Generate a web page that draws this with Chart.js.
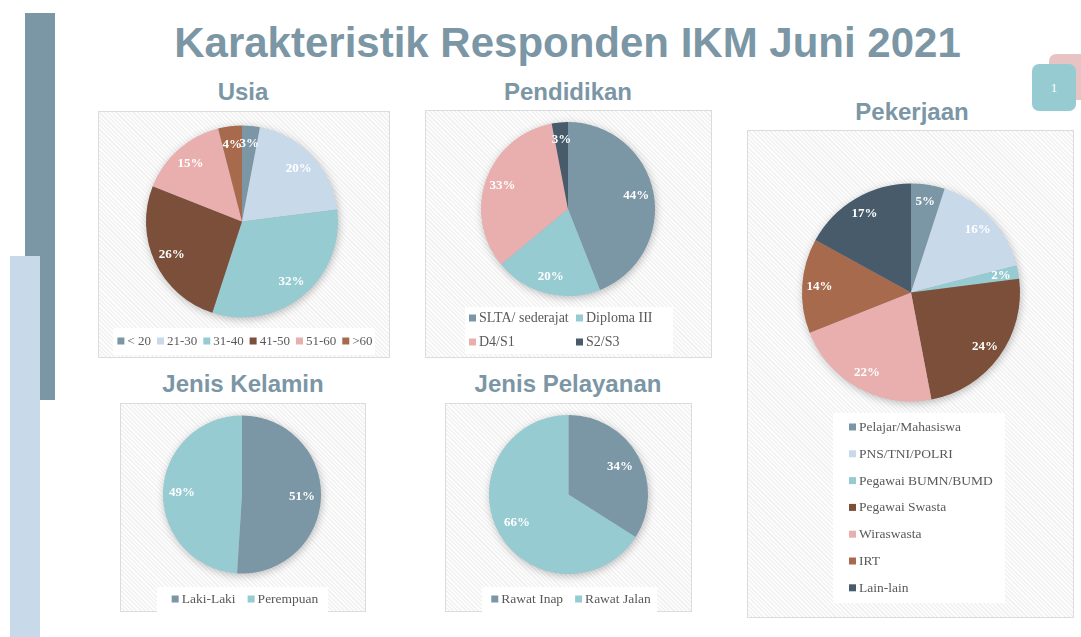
<!DOCTYPE html>
<html><head><meta charset="utf-8">
<script src="https://cdn.jsdelivr.net/npm/chart.js@4.4.1/dist/chart.umd.min.js"></script>
<style>
html,body{margin:0;padding:0;background:#fff;width:1081px;height:637px;overflow:hidden;position:relative}
.abs{position:absolute}
.bar1{left:25px;top:13px;width:30px;height:387px;background:#7b96a5}
.bar2{left:10px;top:256px;width:30px;height:381px;background:#c8d9ea}
.pink{left:1049px;top:54px;width:40px;height:46px;background:#e8c3c3;border-radius:7px}
.teal{left:1032px;top:64px;width:44px;height:47px;background:#96cbd2;border-radius:7px;color:#fff;font:13px "Liberation Serif",serif;display:flex;align-items:center;justify-content:center}
.title{left:0;width:1135px;top:22px;text-align:center;font:bold 42px/42px "Liberation Sans Narrow","Liberation Sans",Arial,sans-serif;color:#7b96a5;white-space:nowrap}
.sub{width:300px;text-align:center;font:bold 24px/24px "Liberation Sans Narrow","Liberation Sans",Arial,sans-serif;color:#7b96a5;white-space:nowrap}
.panel{box-sizing:border-box;border:1px solid #dcdcdc;background-color:#f6f6f6;background-image:repeating-linear-gradient(45deg,#fdfdfd 0,#fdfdfd 1.5px,#f2f2f2 1.5px,#f2f2f2 3px)}
canvas{position:absolute}
</style></head>
<body>
<div class="abs bar1"></div>
<div class="abs bar2"></div>
<div class="abs pink"></div>
<div class="abs teal">1</div>
<div class="abs title">Karakteristik Responden IKM Juni 2021</div>
<div class="abs sub" style="left:93px;top:80px">Usia</div>
<div class="abs sub" style="left:418px;top:80px">Pendidikan</div>
<div class="abs sub" style="left:762px;top:100px">Pekerjaan</div>
<div class="abs sub" style="left:93px;top:372px">Jenis Kelamin</div>
<div class="abs sub" style="left:418px;top:372px">Jenis Pelayanan</div>
<script>
// ---- data ----
const usiaLabels = ['< 20', '21-30', '31-40', '41-50', '51-60', '>60'];
const usiaValues = [3, 20, 32, 26, 15, 4];
const pendidikanLabels = ['SLTA/ sederajat', 'Diploma III', 'D4/S1', 'S2/S3'];
const pendidikanValues = [44, 20, 33, 3];
const pekerjaanLabels = ['Pelajar/Mahasiswa', 'PNS/TNI/POLRI', 'Pegawai BUMN/BUMD', 'Pegawai Swasta', 'Wiraswasta', 'IRT', 'Lain-lain'];
const pekerjaanValues = [5, 16, 2, 24, 22, 14, 17];
const kelaminLabels = ['Laki-Laki', 'Perempuan'];
const kelaminValues = [51, 49];
const pelayananLabels = ['Rawat Inap', 'Rawat Jalan'];
const pelayananValues = [34, 66];

// ---- styles ----
const C = {slate:'#7b96a5', light:'#c8d9ea', teal:'#96cbd2', brown:'#7b4f39', pink:'#e9afae', terra:'#a86a4d', dark:'#475b6a'};
const usiaColors = [C.slate, C.light, C.teal, C.brown, C.pink, C.terra];
const pendidikanColors = [C.slate, C.teal, C.pink, C.dark];
const pekerjaanColors = [C.slate, C.light, C.teal, C.brown, C.pink, C.terra, C.dark];
const duoColors = [C.slate, C.teal];

const shadowPlugin = {
  id:'pieShadow',
  beforeDatasetsDraw(chart){
    const arc = chart.getDatasetMeta(0).data[0]; if(!arc) return;
    const ctx = chart.ctx;
    ctx.save();
    ctx.shadowColor='rgba(0,0,0,0.28)'; ctx.shadowBlur=9; ctx.shadowOffsetX=1; ctx.shadowOffsetY=2;
    ctx.fillStyle='#aaa';
    ctx.beginPath(); ctx.arc(arc.x, arc.y, arc.outerRadius-0.5, 0, Math.PI*2); ctx.fill();
    ctx.restore();
  }
};
const labelPlugin = {
  id:'pctLabels',
  afterDatasetsDraw(chart, args, opts){
    const ctx = chart.ctx;
    const meta = chart.getDatasetMeta(0);
    const vals = chart.data.datasets[0].data;
    ctx.save();
    ctx.font = 'bold 13px "Liberation Serif", serif';
    ctx.fillStyle = '#fff'; ctx.textAlign='center'; ctx.textBaseline='middle';
    meta.data.forEach((arc,i)=>{
      const mid = (arc.startAngle + arc.endAngle)/2;
      const rr = arc.outerRadius * opts.frac;
      ctx.fillText(vals[i] + '%', arc.x + Math.cos(mid)*rr, arc.y + Math.sin(mid)*rr);
    });
    ctx.restore();
  }
};
const legendPlugin = {
  id:'boxLegend',
  afterDraw(chart, args, o){
    const ctx = chart.ctx;
    const labels = chart.data.labels;
    const colors = chart.data.datasets[0].backgroundColor;
    const ox = o.ox, oy = o.oy;
    ctx.save();
    ctx.fillStyle = '#ffffff';
    ctx.fillRect(o.rect[0]-ox, o.rect[1]-oy, o.rect[2], o.rect[3]);
    ctx.font = o.font + 'px "Liberation Serif", serif';
    ctx.textBaseline = 'middle'; ctx.textAlign = 'left';
    const box = 7, tg = 3;
    const pos = [];
    if (o.mode === 'row') {
      const widths = labels.map(l => box + tg + ctx.measureText(l).width);
      const total = widths.reduce((a,b)=>a+b,0) + o.gap*(labels.length-1);
      let x = o.cx - total/2;
      widths.forEach(w => { pos.push([x, o.y]); x += w + o.gap; });
    } else {
      labels.forEach((l,i)=>{
        const col = i % o.xs.length, row = Math.floor(i / o.xs.length);
        pos.push([o.xs[col], o.ys[row]]);
      });
    }
    labels.forEach((l,i)=>{
      const [x,y] = pos[i];
      ctx.fillStyle = colors[i];
      ctx.fillRect(x-ox, y-oy-box/2, box, box);
      ctx.fillStyle = '#595959';
      ctx.fillText(l, x-ox+box+tg, y-oy+0.5);
    });
    ctx.restore();
  }
};

function makePie(panel, cx, cy, r, labels, values, colors, frac, legend){
  const [px,py,pw,ph] = panel;
  const div = document.createElement('div');
  div.className='abs panel';
  Object.assign(div.style,{left:px+'px',top:py+'px',width:pw+'px',height:ph+'px'});
  document.body.appendChild(div);
  const cv = document.createElement('canvas');
  cv.width = pw; cv.height = ph;
  Object.assign(cv.style,{left:px+'px',top:py+'px',width:pw+'px',height:ph+'px'});
  document.body.appendChild(cv);
  legend.ox = px; legend.oy = py;
  new Chart(cv, {
    type:'pie',
    data:{labels:labels, datasets:[{data:values, backgroundColor:colors, borderWidth:0}]},
    options:{
      responsive:false, animation:false,
      layout:{padding:{left:cx-r-px, right:px+pw-(cx+r), top:cy-r-py, bottom:py+ph-(cy+r)}},
      plugins:{legend:{display:false}, tooltip:{enabled:false}, pctLabels:{frac:frac}, boxLegend:legend}
    },
    plugins:[shadowPlugin, labelPlugin, legendPlugin]
  });
}

makePie([98,111,292,247], 242, 221.5, 96, usiaLabels, usiaValues, usiaColors, 0.81,
  {mode:'row', rect:[113,328,262,27], cx:245, y:341, gap:6, font:13});
makePie([425,110,287,248], 568, 209, 87, pendidikanLabels, pendidikanValues, pendidikanColors, 0.8,
  {mode:'grid', rect:[465,307,208,47], xs:[469,576], ys:[318,342], font:14});
makePie([747,130,327,488], 911, 292.5, 109, pekerjaanLabels, pekerjaanValues, pekerjaanColors, 0.84,
  {mode:'grid', rect:[833,413,172,190], xs:[849], ys:[427,453.8,480.6,507.4,534.2,561,587.8], font:13.5});
makePie([120,403,246,209], 242, 494.5, 79, kelaminLabels, kelaminValues, duoColors, 0.76,
  {mode:'row', rect:[157,587,171,25], cx:245, y:599, gap:12, font:13.5});
makePie([445,403,247,209], 568.5, 494.5, 79.5, pelayananLabels, pelayananValues, duoColors, 0.74,
  {mode:'row', rect:[482,587,175,25], cx:571, y:599, gap:12, font:13.5});
</script>
</body></html>
